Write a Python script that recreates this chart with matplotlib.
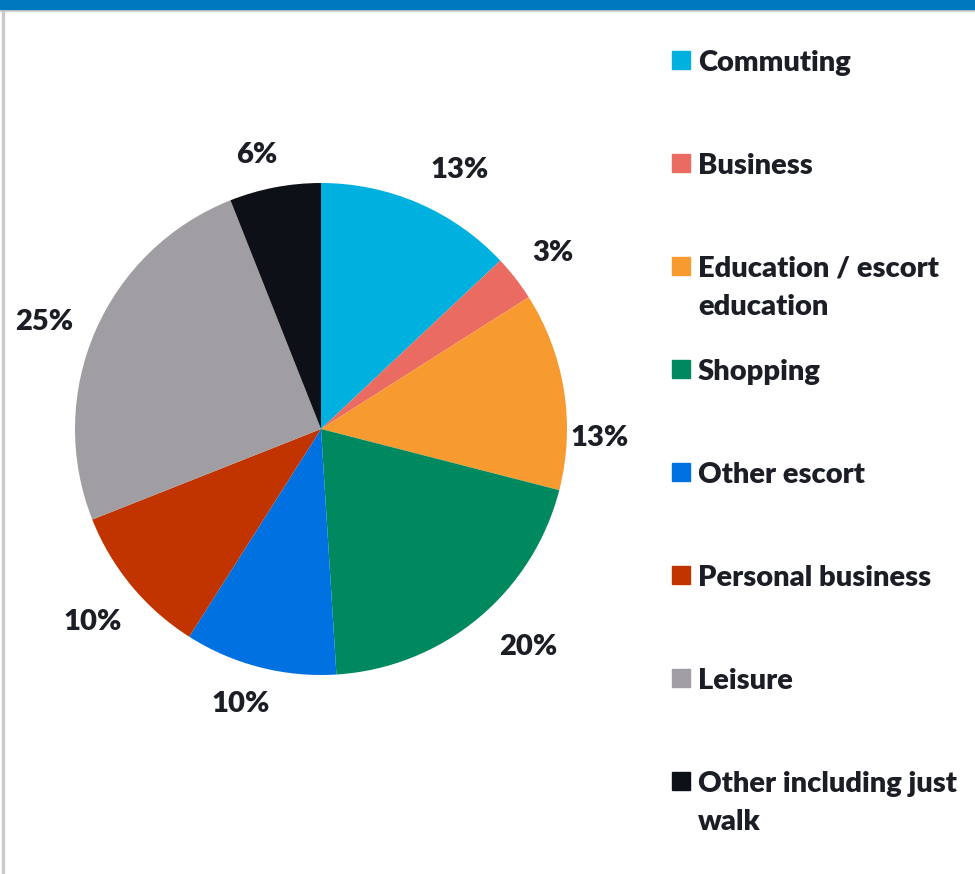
import numpy as np
import matplotlib
matplotlib.use('Agg')
import matplotlib.pyplot as plt
from matplotlib.patches import Rectangle

purposes = ["Commuting", "Business", "Education / escort\neducation", "Shopping",
            "Other escort", "Personal business", "Leisure", "Other including just\nwalk"]
shares = [13, 3, 13, 20, 10, 10, 25, 6]
colors = ["#00B0DF", "#EA6B61", "#F79A2F", "#00895F", "#0071E1", "#C13400", "#A19EA3", "#0D1016"]

# label placement around the rim: angle offset (deg) from slice middle, radial distance
label_shift = [-4.8, -0.6, -10.9, 3.9, -1.8, 0.6, 2.3, 2.4]
label_dist = [1.195, 1.185, 1.135, 1.222, 1.164, 1.216, 1.204, 1.144]

W, H = 975, 874
DPI = 100
TXT = "#1B1E25"
plt.rcParams['font.family'] = ['Lato', 'DejaVu Sans']

fig = plt.figure(figsize=(W / DPI, H / DPI), dpi=DPI)

# frame: blue strip along the top, thin grey rule down the left
fig.patches.append(Rectangle((0, 1 - 9 / H), 1, 9 / H, transform=fig.transFigure,
                             color="#0078BF", zorder=5))
fig.patches.append(Rectangle((0, 1 - 11 / H), 1, 2 / H, transform=fig.transFigure,
                             color="#D4D4D4", zorder=4))
fig.patches.append(Rectangle((2 / W, 0), 2 / W, 1 - 9 / H, transform=fig.transFigure,
                             color="#CBCBCB", zorder=4))

cx, cy, r = 321, 429, 246
ax = fig.add_axes([(cx - r) / W, (H - cy - r) / H, 2 * r / W, 2 * r / H])
wedges, _, pct = ax.pie(shares, colors=colors, startangle=90, counterclock=False,
                        radius=1, autopct=lambda p: f"{round(p)}%", pctdistance=1.2,
                        wedgeprops=dict(linewidth=0),
                        textprops=dict(fontsize=21, fontweight='heavy', color=TXT))
for w, t, da, d in zip(wedges, pct, label_shift, label_dist):
    a = np.deg2rad((w.theta1 + w.theta2) / 2 + da)
    t.set_position((d * np.cos(a), d * np.sin(a)))
ax.set_xlim(-1, 1)
ax.set_ylim(-1, 1)
ax.set_aspect('auto')
ax.axis('off')

# legend drawn by hand so two-line entries keep their square on the first line
for i, (name, c) in enumerate(zip(purposes, colors)):
    yc = 60 + i * 103.0
    fig.patches.append(Rectangle((672 / W, 1 - (yc + 9) / H), 18 / W, 18 / H,
                                 transform=fig.transFigure, color=c))
    fig.text(698 / W, 1 - (yc - 10) / H, name, ha='left', va='top', fontsize=21,
             fontweight='heavy', color=TXT, linespacing=1.55)

fig.savefig("out.png", dpi=DPI, facecolor="white")
